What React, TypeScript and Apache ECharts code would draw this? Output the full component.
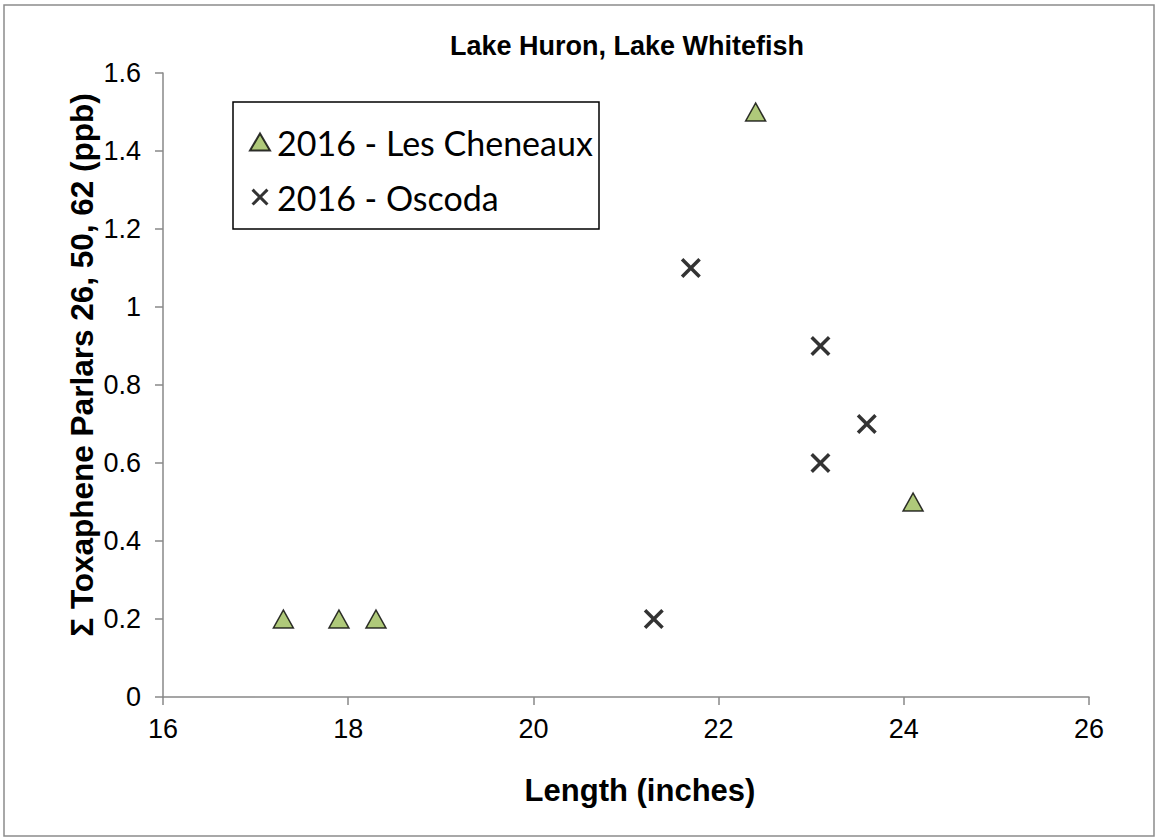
import React, { useEffect, useRef } from "react";
import * as echarts from "echarts";

const chartTitle = "Lake Huron, Lake Whitefish";
const xAxisName = "Length (inches)";
const yAxisName = "Σ Toxaphene Parlars 26, 50, 62 (ppb)";
const seriesNames = ["2016 - Les Cheneaux", "2016 - Oscoda"];
const cheneauxLength = [17.3, 17.9, 18.3, 22.4, 24.1];
const cheneauxValue = [0.2, 0.2, 0.2, 1.5, 0.5];
const oscodaLength = [21.3, 21.7, 23.1, 23.1, 23.6];
const oscodaValue = [0.2, 1.1, 0.9, 0.6, 0.7];

const crossPath =
  "path://M0,2.5 L2.5,0 L10,7.5 L17.5,0 L20,2.5 L12.5,10 L20,17.5 L17.5,20 L10,12.5 L2.5,20 L0,17.5 L7.5,10 Z";

export default function App() {
  const ref = useRef<HTMLDivElement>(null);
  useEffect(() => {
    document.body.style.margin = "0";
    const chart = echarts.init(ref.current!, null, { renderer: "svg" });
    const axisColor = "#888888";
    const font = "'Liberation Sans', Arial, sans-serif";
    chart.setOption({
      animation: false,
      backgroundColor: "#ffffff",
      grid: { left: 163, right: 67, top: 73, bottom: 143, containLabel: false },
      xAxis: {
        type: "value",
        min: 16,
        max: 26,
        interval: 2,
        splitLine: { show: false },
        axisLine: { show: true, lineStyle: { color: axisColor, width: 1.5 } },
        axisTick: { show: true, inside: false, length: 8, lineStyle: { color: axisColor, width: 1.5 } },
        axisLabel: { color: "#000", fontSize: 27, fontFamily: font, margin: 18 },
      },
      yAxis: {
        type: "value",
        min: 0,
        max: 1.6,
        interval: 0.2,
        splitLine: { show: false },
        axisLine: { show: true, lineStyle: { color: axisColor, width: 1.5 } },
        axisTick: { show: true, inside: false, length: 8, lineStyle: { color: axisColor, width: 1.5 } },
        axisLabel: {
          color: "#000",
          fontSize: 27,
          fontFamily: font,
          margin: 22,
          formatter: (v: number) => String(Math.round(v * 10) / 10),
        },
      },
      legend: {
        orient: "vertical",
        left: 249,
        top: 125,
        padding: 0,
        itemGap: 21,
        itemWidth: 20,
        itemHeight: 17,
        textStyle: { fontSize: 34, fontFamily: "Lato, 'Open Sans', sans-serif", color: "#000", padding: [0, 0, 0, 2] },
        data: seriesNames,
      },
      graphic: [
        {
          type: "rect",
          shape: { x: 4, y: 5, width: 1150, height: 831 },
          style: { fill: "none", stroke: "#8c8c8c", lineWidth: 1.5 },
          silent: true,
        },
        {
          type: "rect",
          shape: { x: 233, y: 102, width: 366, height: 127 },
          style: { fill: "none", stroke: "#000", lineWidth: 1.5 },
          silent: true,
        },
        {
          type: "text",
          x: 627,
          y: 46,
          style: {
            text: chartTitle,
            fontSize: 27,
            fontWeight: "bold",
            fontFamily: font,
            fill: "#000",
            textAlign: "center",
            textVerticalAlign: "middle",
          },
        },
        {
          type: "text",
          x: 640,
          y: 790,
          style: {
            text: xAxisName,
            fontSize: 31,
            fontWeight: "bold",
            fontFamily: font,
            fill: "#000",
            textAlign: "center",
            textVerticalAlign: "middle",
          },
        },
        {
          type: "text",
          x: 82,
          y: 365,
          rotation: Math.PI / 2,
          style: {
            text: yAxisName,
            fontSize: 31.5,
            fontWeight: "bold",
            fontFamily: font,
            fill: "#000",
            textAlign: "center",
            textVerticalAlign: "middle",
          },
        },
      ],
      series: [
        {
          name: seriesNames[0],
          type: "scatter",
          symbol: "triangle",
          symbolSize: [20, 18],
          itemStyle: { color: "#9BBB59", borderColor: "#000", borderWidth: 1.5 },
          data: cheneauxLength.map((x, i) => [x, cheneauxValue[i]]),
        },
        {
          name: seriesNames[1],
          type: "scatter",
          symbol: crossPath,
          symbolSize: 20,
          itemStyle: { color: "#000" },
          data: oscodaLength.map((x, i) => [x, oscodaValue[i]]),
        },
      ],
    });
    return () => chart.dispose();
  }, []);
  return <div ref={ref} style={{ width: 1156, height: 840 }} />;
}
